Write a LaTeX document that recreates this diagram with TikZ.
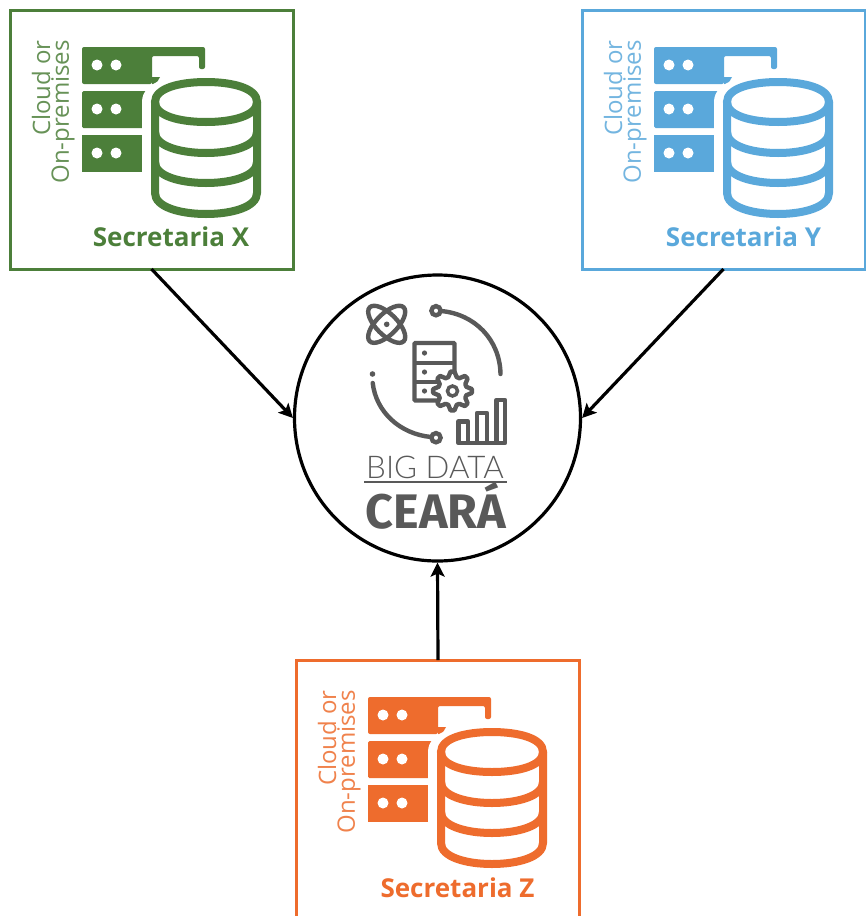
\documentclass[tikz,border=0pt]{standalone}
\usepackage{fontspec}
\usetikzlibrary{arrows.meta}
\setmainfont{Open Sans}
\newfontfamily\thinfont{Lato Light}
\newfontfamily\heavyfont{Fira Sans}[BoldFont={Fira Sans Bold}]
\definecolor{cgreen}{HTML}{4C7F3A}
\definecolor{cblue}{HTML}{5AA8DB}
\definecolor{corange}{HTML}{EE6C2D}
\definecolor{cgray}{HTML}{595959}
\tikzset{
  x=1pt,y=-1pt,
  panel/.style={draw=#1,line width=3pt,fill=white,minimum width=283pt,minimum height=259pt,inner sep=0pt,outer sep=0pt,anchor=north west},
  hub/.style={circle,draw=black,line width=3.2pt,fill=white,minimum size=286pt,inner sep=0pt,outer sep=1.6pt},
  link/.style={-{Stealth[length=14pt,width=14pt,inset=3pt]},line width=3.2pt,black},
  cap/.style={font=\bfseries\fontsize{26}{27}\selectfont,text=#1,inner sep=0pt},
  vert/.style={font=\fontsize{24}{25}\selectfont,text=#1!85,inner sep=0pt,rotate=90,anchor=east},
  icon/.style={line width=4.4pt,draw=cgray},
  pics/dbicon/.style n args={2}{code={
    \fill[#1,rounded corners=2pt] (72,37) -- (195,37) -- (195,59) -- (189,59) -- (189,46) -- (142,46) -- (142,74) -- (72,74) -- cycle;
    \fill[#1] (142,67) -- (150,67) -- (146,74) -- (142,74) -- cycle;
    \fill[#1,rounded corners=1.5pt] (72,81) -- (145,81) -- (145,118) -- (72,118) -- cycle;
    \fill[#1] (72,125) -- (145,125) -- (145,162) -- (72,162) -- cycle;
    \foreach \py in {55,99,143}{
      \fill[white] (87,\py) circle[radius=5.5];
      \fill[white] (106,\py) circle[radius=5.5];
    }
    \fill[white] (132,92) .. controls (132,70) and (165,64) .. (196,64) .. controls (227,64) and (255,72) .. (255,92) -- (255,183) .. controls (255,203) and (227,211) .. (196,211) .. controls (165,211) and (132,203) .. (132,183) -- cycle;
    \begin{scope}[draw=#1,line width=8pt,line cap=round]
      \draw (145,92) .. controls (145,78) and (170,72) .. (196,72) .. controls (222,72) and (247,78) .. (247,92) .. controls (247,106) and (222,112) .. (196,112) .. controls (170,112) and (145,106) .. (145,92) -- cycle;
      \draw (145,92) -- (145,183) .. controls (145,197) and (170,204) .. (196,204) .. controls (222,204) and (247,197) .. (247,183) -- (247,92);
      \draw (145,122) .. controls (145,136) and (170,143) .. (196,143) .. controls (222,143) and (247,136) .. (247,122);
      \draw (145,152) .. controls (145,166) and (170,173) .. (196,173) .. controls (222,173) and (247,166) .. (247,152);
    \end{scope}
    \node[vert=#1] (#2a) at (31,30) {Cloud or};
    \node[vert=#1] (#2b) at (53,30) {On-premises};
  }}
}
\begin{document}
\begin{tikzpicture}
\clip (0,0) rectangle (866,916);
\fill[white] (0,0) rectangle (866,916);
\node[panel=cgreen] (boxX) at (10,10) {};
\node[panel=cblue] (boxY) at (582,10) {};
\node[panel=corange] (boxZ) at (296.5,660) {};
\node[hub] (hubc) at (437.5,418) {};
\draw[link] (boxX.south) -- (hubc.west);
\draw[link] (boxY.south) -- (hubc.east);
\draw[link] (boxZ.north) -- (hubc.south);
\pic at (10,10) {dbicon={cgreen}{x}};
\pic at (582,10) {dbicon={cblue}{y}};
\pic at (296,660) {dbicon={corange}{z}};
\node[cap=cgreen] (capX) at (171,236.5) {Secretaria X};
\node[cap=cblue] (capY) at (743.5,236.5) {Secretaria Y};
\node[cap=corange] (capZ) at (457.5,887.5) {Secretaria Z};
% hub artwork
\draw[icon,rotate around={45:(386.7,324.3)}] (386.7,324.3) ellipse[x radius=24,y radius=10.5];
\draw[icon,rotate around={-45:(386.7,324.3)}] (386.7,324.3) ellipse[x radius=24,y radius=10.5];
\fill[cgray] (386.7,324.3) circle[radius=2.8];
\draw[icon] (436,310.7) circle[radius=4.6];
\draw[icon,line cap=round] (441,311) .. controls (475,314) and (500,340) .. (500.5,374);
\draw[icon] (436,437.7) circle[radius=4.6];
\draw[icon,line cap=round] (372.7,383) .. controls (376,412) and (400,434) .. (431,437);
\fill[cgray] (372.5,374) circle[radius=2.8];
\draw[icon,rounded corners=1pt] (414.5,343) rectangle (454.5,400.5);
\draw[icon] (414.5,363) -- (454.5,363);
\draw[icon] (414.5,382) -- (454.5,382);
\foreach \py in {353,372,391} \fill[cgray] (424.5,\py) circle[radius=2.6];
\draw[icon,fill=white,line join=round] plot[samples at={5.625,16.875,...,354.375}] ({452.5+(mod(\x+11.25,45)<22.5?19.5:14.5)*cos(\x)},{391+(mod(\x+11.25,45)<22.5?19.5:14.5)*sin(\x)}) -- cycle;
\draw[cgray,line width=3.5pt] (452.5,391) circle[radius=5];
\draw[icon,line join=round] (458.5,421.5) rectangle (468,443);
\draw[icon,line join=round] (477,413) rectangle (487,443);
\draw[icon,line join=round] (496.5,400) rectangle (505,443);
\draw[icon,line join=round] (458.5,443) -- (505,443);
\node[text=cgray,inner sep=0pt,font=\thinfont\fontsize{31.3}{32}\selectfont] (bd) at (435,467) {BIG DATA};
\draw[cgray,line width=1.6pt] (364,482) -- (507,482);
\node[text=cgray,inner sep=0pt,font=\heavyfont\bfseries\fontsize{48.5}{49}\selectfont] (ce) at (436,506) {CEARÁ};
\end{tikzpicture}
\end{document}
